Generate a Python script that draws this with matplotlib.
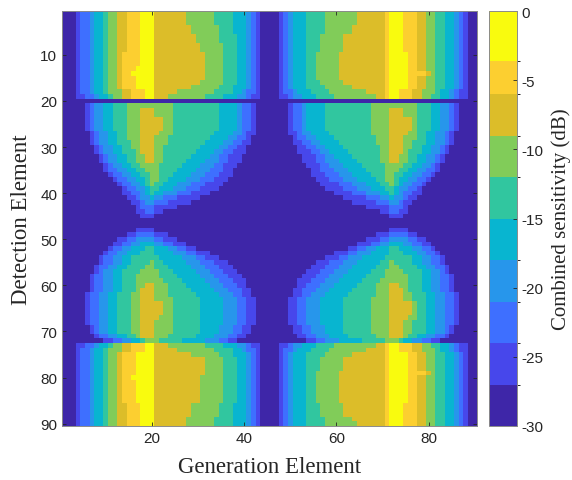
import numpy as np
import matplotlib
matplotlib.use("Agg")
import matplotlib.pyplot as plt
from matplotlib.colors import ListedColormap, BoundaryNorm

# contour levels of the map
# each row: "level:count" runs over 45 columns, with a repeat count for rows
# level 0 = -30..-27 dB ... level 9 = top band (yellow)
top_left = [
    (3, "0:3 1:1 2:2 3:1 4:2 5:1 6:2 7:2 8:3 9:3 7:7 6:6 5:4 4:3 3:1 2:1 1:1 0:2"),
    (2, "0:3 1:1 2:2 3:1 4:2 5:1 6:2 7:2 8:3 9:3 7:8 6:6 5:3 4:3 3:1 2:1 1:1 0:2"),
    (2, "0:3 1:1 2:2 3:1 4:2 5:1 6:2 7:2 8:3 9:3 7:9 6:5 5:4 4:2 3:1 2:1 1:1 0:2"),
    (2, "0:3 1:1 2:2 3:1 4:2 5:1 6:2 7:2 8:3 9:3 7:10 6:5 5:3 4:2 3:1 2:1 1:1 0:2"),
    (3, "0:3 1:1 2:2 3:1 4:2 5:1 6:2 7:1 8:4 9:3 7:11 6:4 5:3 4:2 3:1 2:1 1:1 0:2"),
    (1, "0:3 1:1 2:2 3:1 4:2 5:1 6:2 7:1 8:3 9:4 7:11 6:4 5:3 4:2 3:1 2:1 1:1 0:2"),
    (1, "0:3 1:1 2:2 3:1 4:2 5:1 6:2 7:1 8:2 9:5 7:11 6:4 5:3 4:2 3:1 2:1 1:1 0:2"),
    (1, "0:3 1:1 2:2 3:1 4:2 5:1 6:2 7:1 8:3 9:4 7:11 6:4 5:3 4:2 3:1 2:1 1:1 0:2"),
    (1, "0:3 1:1 2:2 3:1 4:2 5:1 6:2 7:1 8:3 9:4 7:10 6:5 5:3 4:2 3:1 2:1 1:1 0:2"),
    (1, "0:3 1:1 2:2 3:1 4:2 5:1 6:2 7:1 8:3 9:4 7:8 6:6 5:3 4:3 3:1 2:1 1:1 0:2"),
    (1, "0:3 1:1 2:2 3:1 4:2 5:1 6:3 7:2 8:3 9:2 7:5 6:8 5:4 4:2 3:1 2:2 1:1 0:2"),
    (1, "0:3 1:2 2:2 3:1 4:2 5:1 6:2 7:2 8:3 9:2 7:3 6:8 5:4 4:3 3:2 2:1 1:2 0:2"),
    (1, "0:45"),
]
top_right = [
    (3, "0:2 1:1 2:1 3:1 4:3 5:4 6:7 7:6 8:1 9:3 8:3 7:2 6:2 5:2 4:2 3:1 2:1 1:1 0:2"),
    (2, "0:2 1:1 2:1 3:1 4:3 5:4 6:6 7:7 8:1 9:3 8:3 7:2 6:2 5:2 4:2 3:1 2:1 1:1 0:2"),
    (4, "0:2 1:1 2:1 3:1 4:3 5:3 6:5 7:9 8:1 9:3 8:3 7:2 6:2 5:2 4:2 3:1 2:1 1:1 0:2"),
    (4, "0:2 1:1 2:1 3:1 4:3 5:2 6:5 7:10 8:1 9:4 8:2 7:2 6:2 5:2 4:2 3:1 2:1 1:1 0:2"),
    (1, "0:2 1:1 2:1 3:1 4:3 5:2 6:5 7:10 8:1 9:4 8:4 7:1 6:1 5:2 4:2 3:1 2:1 1:1 0:2"),
    (1, "0:2 1:1 2:1 3:1 4:3 5:2 6:5 7:10 8:1 9:4 8:2 7:2 6:2 5:2 4:2 3:1 2:1 1:1 0:2"),
    (1, "0:2 1:1 2:1 3:1 4:3 5:3 6:5 7:9 8:1 9:4 8:2 7:2 6:2 5:2 4:2 3:1 2:1 1:1 0:2"),
    (1, "0:2 1:1 2:1 3:1 4:3 5:4 6:6 7:7 8:1 9:4 8:2 7:2 6:2 5:2 4:2 3:1 2:1 1:1 0:2"),
    (1, "0:2 1:1 2:2 3:1 4:3 5:4 6:8 7:4 8:1 9:2 8:3 7:2 6:3 5:1 4:2 3:1 2:1 1:2 0:2"),
    (1, "0:2 1:2 2:1 3:2 4:3 5:4 6:9 7:2 8:1 9:2 8:3 7:2 6:2 5:2 4:2 3:1 2:1 1:2 0:2"),
    (1, "0:45"),
]
second_left = [
    (1, "0:5 1:1 2:1 3:2 4:2 5:3 6:10 5:10 4:4 3:1 2:2 1:1 0:3"),
    (2, "0:5 1:1 2:1 3:2 4:2 5:3 6:3 7:3 6:4 5:10 4:4 3:1 2:2 1:1 0:3"),
    (3, "0:5 1:1 2:1 3:2 4:2 5:3 6:3 7:5 6:2 5:10 4:4 3:1 2:2 1:1 0:3"),
    (1, "0:6 1:1 2:1 3:2 4:2 5:2 6:3 7:4 6:3 5:9 4:4 3:2 2:1 1:2 0:3"),
    (1, "0:6 1:1 2:1 3:2 4:2 5:2 6:3 7:3 6:3 5:9 4:4 3:2 2:2 1:1 0:4"),
    (1, "0:6 1:1 2:1 3:2 4:2 5:3 6:2 7:3 6:3 5:8 4:4 3:2 2:2 1:2 0:4"),
    (1, "0:7 1:1 2:1 3:2 4:2 5:2 6:2 7:3 6:2 5:8 4:4 3:2 2:2 1:2 0:5"),
    (1, "0:7 1:1 2:1 3:2 4:2 5:3 6:1 7:3 6:2 5:7 4:4 3:2 2:2 1:3 0:5"),
    (1, "0:8 1:1 2:1 3:2 4:2 5:2 6:2 7:2 6:2 5:6 4:4 3:2 2:2 1:3 0:6"),
    (1, "0:8 1:1 2:1 3:2 4:2 5:2 6:2 7:2 6:2 5:5 4:4 3:3 2:2 1:3 0:6"),
    (1, "0:9 1:1 2:1 3:2 4:2 5:2 6:4 5:5 4:4 3:3 2:2 1:3 0:7"),
    (1, "0:9 1:1 2:2 3:2 4:2 5:2 6:3 5:4 4:4 3:3 2:3 1:2 0:8"),
    (1, "0:10 1:1 2:2 3:2 4:2 5:2 6:2 5:3 4:4 3:3 2:3 1:3 0:8"),
    (1, "0:11 1:1 2:2 3:2 4:2 5:1 6:2 5:2 4:4 3:3 2:3 1:3 0:9"),
    (1, "0:12 1:1 2:2 3:2 4:1 5:1 6:1 5:2 4:3 3:3 2:3 1:4 0:10"),
    (1, "0:13 1:1 2:2 3:2 4:1 5:2 4:3 3:3 2:3 1:4 0:11"),
    (1, "0:13 1:2 2:2 3:1 4:1 5:1 4:2 3:3 2:3 1:4 0:13"),
    (1, "0:14 1:2 2:1 3:2 4:1 3:2 2:3 1:5 0:15"),
    (1, "0:15 1:2 2:1 3:2 2:3 1:5 0:17"),
    (1, "0:16 1:1 2:3 1:5 0:20"),
    (1, "0:16 1:2 2:2 1:2 0:23"),
    (1, "0:17 1:3 0:25"),
    (2, "0:45"),
]
second_right = [
    (1, "0:4 1:1 2:2 3:1 4:4 5:10 6:10 5:3 4:2 3:2 2:1 1:1 0:4"),
    (2, "0:4 1:1 2:2 3:1 4:4 5:10 6:4 7:3 6:3 5:3 4:2 3:2 2:1 1:1 0:4"),
    (3, "0:4 1:1 2:2 3:1 4:4 5:10 6:4 7:5 6:1 5:3 4:2 3:2 2:1 1:1 0:4"),
    (1, "0:4 1:2 2:1 3:2 4:4 5:9 6:4 7:4 6:2 5:2 4:2 3:2 2:1 1:1 0:5"),
    (1, "0:5 1:1 2:2 3:2 4:4 5:9 6:3 7:3 6:3 5:2 4:2 3:2 2:1 1:1 0:5"),
    (1, "0:5 1:2 2:2 3:2 4:4 5:8 6:3 7:3 6:2 5:3 4:2 3:2 2:1 1:1 0:5"),
    (1, "0:6 1:2 2:2 3:2 4:4 5:8 6:2 7:3 6:2 5:2 4:2 3:2 2:1 1:1 0:6"),
    (1, "0:6 1:3 2:2 3:2 4:4 5:7 6:2 7:3 6:1 5:3 4:2 3:2 2:1 1:1 0:6"),
    (1, "0:7 1:3 2:2 3:2 4:4 5:6 6:2 7:2 6:2 5:2 4:2 3:2 2:1 1:1 0:7"),
    (1, "0:7 1:3 2:2 3:3 4:4 5:5 6:2 7:2 6:2 5:2 4:2 3:2 2:1 1:1 0:7"),
    (1, "0:8 1:3 2:2 3:3 4:4 5:5 6:4 5:2 4:2 3:2 2:1 1:1 0:8"),
    (1, "0:9 1:2 2:3 3:3 4:4 5:4 6:3 5:2 4:2 3:2 2:2 1:1 0:8"),
    (1, "0:9 1:3 2:3 3:3 4:4 5:3 6:2 5:2 4:2 3:2 2:2 1:1 0:9"),
    (1, "0:10 1:3 2:3 3:3 4:4 5:2 6:2 5:1 4:2 3:2 2:2 1:1 0:10"),
    (1, "0:11 1:4 2:3 3:3 4:3 5:2 6:1 5:1 4:1 3:2 2:2 1:1 0:11"),
    (1, "0:12 1:4 2:3 3:3 4:3 5:2 4:1 3:2 2:2 1:1 0:12"),
    (1, "0:14 1:4 2:3 3:3 4:2 5:1 4:1 3:1 2:2 1:2 0:12"),
    (1, "0:16 1:5 2:3 3:2 4:1 3:2 2:1 1:2 0:13"),
    (1, "0:18 1:5 2:3 3:2 2:1 1:2 0:14"),
    (1, "0:21 1:5 2:3 1:1 0:15"),
    (1, "0:24 1:2 2:2 1:2 0:15"),
    (1, "0:26 1:3 0:16"),
    (2, "0:45"),
]
third_left = [
    (1, "0:16 1:4 0:25"),
    (1, "0:14 1:2 2:4 1:3 0:22"),
    (1, "0:12 1:2 2:2 3:4 2:2 1:3 0:20"),
    (1, "0:11 1:2 2:2 3:2 4:3 3:2 2:2 1:3 0:18"),
    (1, "0:10 1:1 2:2 3:2 4:3 5:2 4:3 3:2 2:2 1:2 0:16"),
    (1, "0:9 1:1 2:2 3:2 4:3 5:3 4:4 3:3 2:2 1:3 0:13"),
    (1, "0:8 1:1 2:2 3:2 4:2 5:6 4:5 3:3 2:2 1:3 0:11"),
    (1, "0:8 1:1 2:2 3:2 4:2 5:4 6:1 5:2 4:5 3:3 2:3 1:3 0:9"),
    (1, "0:7 1:1 2:2 3:2 4:2 5:4 6:2 5:3 4:5 3:3 2:3 1:3 0:8"),
    (1, "0:7 1:1 2:1 3:2 4:2 5:4 6:4 5:3 4:5 3:3 2:3 1:3 0:7"),
    (1, "0:6 1:1 2:2 3:2 4:2 5:3 6:5 5:4 4:5 3:3 2:3 1:3 0:6"),
    (1, "0:6 1:1 2:2 3:2 4:2 5:3 6:6 5:4 4:5 3:3 2:3 1:3 0:5"),
    (1, "0:6 1:1 2:2 3:2 4:2 5:3 6:2 7:2 6:3 5:4 4:5 3:3 2:3 1:2 0:5"),
    (1, "0:6 1:1 2:2 3:2 4:2 5:3 6:1 7:3 6:3 5:5 4:5 3:3 2:3 1:2 0:4"),
    (1, "0:5 1:1 2:2 3:2 4:2 5:3 6:2 7:3 6:3 5:6 4:5 3:3 2:2 1:2 0:4"),
    (1, "0:5 1:1 2:2 3:2 4:2 5:3 6:2 7:3 6:4 5:6 4:5 3:3 2:2 1:2 0:3"),
    (3, "0:5 1:1 2:2 3:2 4:2 5:3 6:2 7:5 6:2 5:6 4:5 3:3 2:2 1:2 0:3"),
    (1, "0:5 1:1 2:2 3:2 4:2 5:3 6:2 7:4 6:3 5:6 4:5 3:3 2:2 1:2 0:3"),
    (1, "0:5 1:1 2:2 3:2 4:2 5:3 6:2 7:3 6:4 5:6 4:5 3:3 2:2 1:2 0:3"),
    (2, "0:6 1:1 2:1 3:2 4:2 5:3 6:2 7:3 6:4 5:6 4:4 3:3 2:2 1:2 0:4"),
    (1, "0:7 1:1 2:2 3:2 4:2 5:2 6:1 7:3 6:3 5:6 4:4 3:3 2:2 1:2 0:5"),
    (1, "0:9 1:2 2:2 3:2 4:2 5:1 6:3 5:5 4:5 3:3 2:2 1:2 0:7"),
]
third_right = [
    (1, "0:26 1:4 0:15"),
    (1, "0:23 1:3 2:4 1:2 0:13"),
    (1, "0:21 1:3 2:2 3:4 2:2 1:2 0:11"),
    (1, "0:19 1:3 2:2 3:2 4:3 3:2 2:2 1:2 0:10"),
    (1, "0:17 1:2 2:2 3:2 4:3 5:2 4:3 3:2 2:2 1:1 0:9"),
    (1, "0:14 1:3 2:2 3:3 4:4 5:3 4:3 3:2 2:2 1:1 0:8"),
    (1, "0:12 1:3 2:2 3:3 4:5 5:6 4:2 3:2 2:2 1:1 0:7"),
    (1, "0:10 1:3 2:3 3:3 4:5 5:2 6:1 5:4 4:2 3:2 2:2 1:1 0:7"),
    (1, "0:9 1:3 2:3 3:3 4:5 5:3 6:2 5:4 4:2 3:2 2:2 1:1 0:6"),
    (1, "0:8 1:3 2:3 3:3 4:5 5:3 6:4 5:4 4:2 3:2 2:1 1:1 0:6"),
    (1, "0:7 1:3 2:3 3:3 4:5 5:4 6:5 5:3 4:2 3:2 2:2 1:1 0:5"),
    (1, "0:6 1:3 2:3 3:3 4:5 5:4 6:6 5:3 4:2 3:2 2:2 1:1 0:5"),
    (1, "0:6 1:2 2:3 3:3 4:5 5:4 6:3 7:2 6:2 5:3 4:2 3:2 2:2 1:1 0:5"),
    (1, "0:5 1:2 2:3 3:3 4:5 5:5 6:3 7:3 6:1 5:3 4:2 3:2 2:2 1:1 0:5"),
    (1, "0:5 1:2 2:2 3:3 4:5 5:6 6:3 7:3 6:2 5:3 4:2 3:2 2:2 1:1 0:4"),
    (1, "0:4 1:2 2:2 3:3 4:5 5:6 6:4 7:3 6:2 5:3 4:2 3:2 2:2 1:1 0:4"),
    (3, "0:4 1:2 2:2 3:3 4:5 5:6 6:4 7:5 6:1 5:2 4:2 3:2 2:2 1:1 0:4"),
    (1, "0:4 1:2 2:2 3:3 4:5 5:6 6:4 7:4 6:2 5:2 4:2 3:2 2:2 1:1 0:4"),
    (1, "0:4 1:2 2:2 3:3 4:5 5:6 6:4 7:3 6:2 5:3 4:2 3:2 2:2 1:1 0:4"),
    (2, "0:5 1:2 2:2 3:3 4:4 5:6 6:4 7:3 6:2 5:3 4:2 3:2 2:1 1:1 0:5"),
    (1, "0:6 1:2 2:2 3:3 4:4 5:6 6:3 7:3 6:1 5:2 4:2 3:2 2:2 1:1 0:6"),
    (1, "0:8 1:2 2:2 3:3 4:5 5:5 6:3 5:1 4:2 3:2 2:2 1:2 0:8"),
]
bottom_left = [
    (1, "0:3 1:2 2:2 3:1 4:2 5:1 6:2 7:2 8:3 9:2 7:3 6:8 5:4 4:3 3:2 2:1 1:2 0:2"),
    (1, "0:3 1:1 2:2 3:1 4:2 5:1 6:3 7:2 8:3 9:2 7:5 6:8 5:4 4:2 3:1 2:2 1:1 0:2"),
    (1, "0:3 1:1 2:2 3:1 4:2 5:1 6:2 7:1 8:3 9:4 7:8 6:6 5:3 4:3 3:1 2:1 1:1 0:2"),
    (4, "0:3 1:1 2:2 3:1 4:2 5:1 6:2 7:1 8:3 9:4 7:11 6:4 5:3 4:2 3:1 2:1 1:1 0:2"),
    (1, "0:3 1:1 2:2 3:1 4:2 5:1 6:2 7:1 8:2 9:5 7:10 6:5 5:3 4:2 3:1 2:1 1:1 0:2"),
    (5, "0:3 1:1 2:2 3:1 4:2 5:1 6:2 7:1 8:3 9:4 7:10 6:5 5:3 4:2 3:1 2:1 1:1 0:2"),
    (3, "0:3 1:1 2:2 3:1 4:2 5:1 6:2 7:2 8:3 9:3 7:8 6:6 5:3 4:3 3:1 2:1 1:1 0:2"),
    (2, "0:3 1:1 2:2 3:1 4:2 5:1 6:2 7:2 8:3 9:3 7:7 6:6 5:4 4:3 3:1 2:1 1:1 0:2"),
]
bottom_right = [
    (1, "0:2 1:2 2:1 3:2 4:3 5:4 6:9 7:2 8:1 9:2 8:3 7:2 6:2 5:2 4:2 3:1 2:1 1:2 0:2"),
    (1, "0:2 1:1 2:2 3:1 4:3 5:4 6:8 7:4 8:1 9:2 8:3 7:2 6:3 5:1 4:2 3:1 2:1 1:2 0:2"),
    (1, "0:2 1:1 2:1 3:1 4:3 5:4 6:6 7:7 8:1 9:4 8:2 7:2 6:2 5:2 4:2 3:1 2:1 1:1 0:2"),
    (3, "0:2 1:1 2:1 3:1 4:3 5:3 6:5 7:9 8:1 9:4 8:2 7:2 6:2 5:2 4:2 3:1 2:1 1:1 0:2"),
    (1, "0:2 1:1 2:1 3:1 4:3 5:2 6:5 7:10 8:1 9:4 8:4 7:1 6:1 5:2 4:2 3:1 2:1 1:1 0:2"),
    (6, "0:2 1:1 2:1 3:1 4:3 5:2 6:5 7:10 8:1 9:4 8:2 7:2 6:2 5:2 4:2 3:1 2:1 1:1 0:2"),
    (3, "0:2 1:1 2:1 3:1 4:3 5:3 6:5 7:9 8:1 9:3 8:3 7:2 6:2 5:2 4:2 3:1 2:1 1:1 0:2"),
    (1, "0:2 1:1 2:1 3:1 4:3 5:4 6:6 7:7 8:1 9:3 8:3 7:2 6:2 5:2 4:2 3:1 2:1 1:1 0:2"),
    (1, "0:2 1:1 2:1 3:1 4:3 5:4 6:7 7:6 8:1 9:3 8:3 7:2 6:2 5:2 4:2 3:1 2:1 1:1 0:2"),
]

# band edges of the colour bar (dB) and parula(10) colours
band_edges = [-30, -27, -24, -21, -18, -15, -12, -9, -6, -3.6, 0]
parula10 = ["#3e26a8", "#4747eb", "#3e6fff", "#2796eb", "#08b5d0",
            "#31c69f", "#81cc59", "#dcbd29", "#fccf30", "#f9fb0e"]
cbar_ticks = [-30, -25, -20, -15, -10, -5, 0]


def expand(spec):
    rows = []
    for n, s in spec:
        row = []
        for tok in s.split():
            lv, cnt = tok.split(":")
            row += [int(lv)] * int(cnt)
        assert len(row) == 45, (s, len(row))
        rows += [row] * n
    return rows


levels = []
for left, right in [(top_left, top_right), (second_left, second_right),
                    (third_left, third_right), (bottom_left, bottom_right)]:
    for a, b in zip(expand(left), expand(right)):
        levels.append(a + b)
levels = np.array(levels)
assert levels.shape == (90, 90)

# value at the middle of each band
mids = np.array([(band_edges[i] + band_edges[i + 1]) / 2 for i in range(10)])
sens = mids[levels]

plt.rcParams["axes.unicode_minus"] = False
plt.rcParams["font.family"] = "Liberation Sans"

cmap = ListedColormap(parula10)
norm = BoundaryNorm(band_edges, cmap.N)

fig = plt.figure(figsize=(5.72, 4.81), dpi=100)
ax = fig.add_axes([62 / 572, 1 - 427 / 481, 415 / 572, 415 / 481])
im = ax.imshow(sens, cmap=cmap, norm=norm, extent=(0.5, 90.5, 90.5, 0.5),
               aspect="auto", interpolation="nearest")

ax.set_xticks([20, 40, 60, 80])
ax.set_yticks(range(10, 91, 10))
ax.tick_params(direction="in", top=True, right=True, length=3, width=0.6,
               color="#262626", labelsize=11, labelcolor="#262626")
for sp in ax.spines.values():
    sp.set_color("#8a8a8a")
    sp.set_linewidth(0.7)

serif = "Liberation Serif"
ax.set_xlabel("Generation Element", family=serif, fontsize=16.5,
              color="#262626", labelpad=8)
ax.set_ylabel("Detection Element", family=serif, fontsize=16.5,
              color="#262626", labelpad=6)

cax = fig.add_axes([489 / 572, 1 - 427 / 481, 28 / 572, 415 / 481])
cb = fig.colorbar(im, cax=cax, ticks=cbar_ticks, spacing="proportional")
cb.outline.set_edgecolor("#8a8a8a")
cb.outline.set_linewidth(0.7)
cb.ax.tick_params(direction="in", length=3, width=0.6, color="#262626",
                  labelsize=11, labelcolor="#262626")
cb.set_label("Combined sensitivity (dB)", family=serif, fontsize=15,
             color="#262626", labelpad=5)

fig.savefig("out.png", dpi=100)
